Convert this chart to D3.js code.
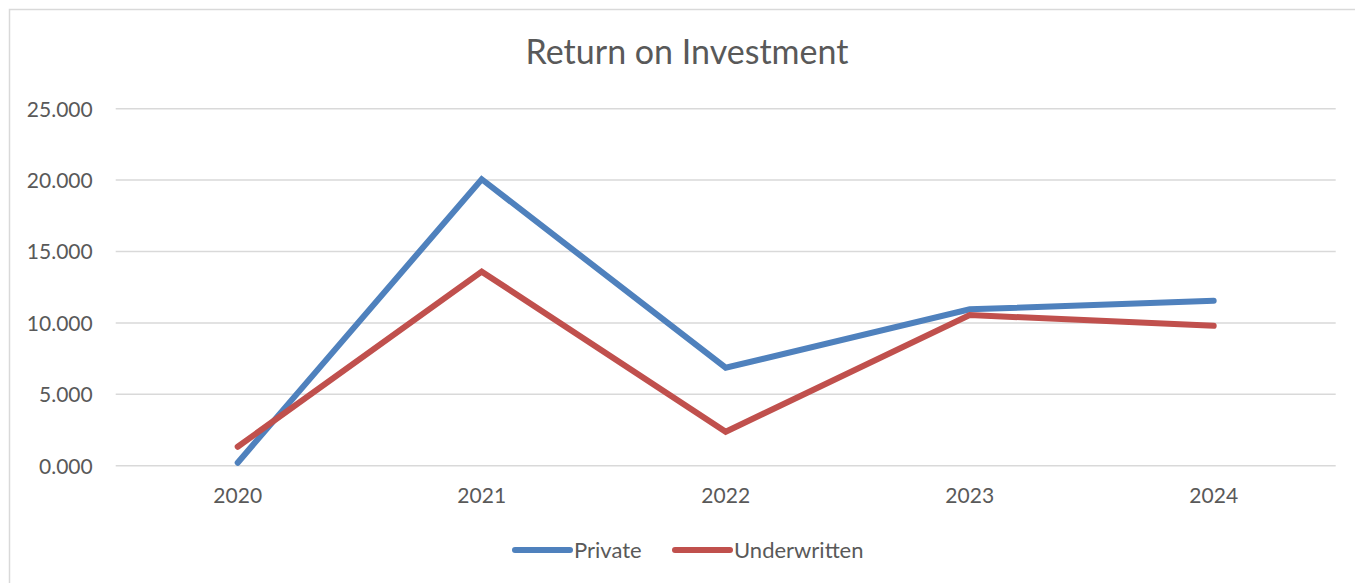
<!DOCTYPE html>
<html>
<head>
<meta charset="utf-8">
<script src="https://cdn.jsdelivr.net/npm/d3@7"></script>
<style>
  body { margin: 0; background: #fff; }
  text { font-family: Lato, "Open Sans", sans-serif; fill: #595959; }
</style>
</head>
<body>
<div id="chart"></div>
<script>
const years = ['2020', '2021', '2022', '2023', '2024']
const privateValues = [0.21, 20.06, 6.86, 10.95, 11.55]
const underwrittenValues = [1.33, 13.59, 2.38, 10.55, 9.80]
const yTicks = [0, 5, 10, 15, 20, 25]
const seriesNames = ['Private', 'Underwritten']
const seriesColors = ['#4F81BD', '#C0504D']

const width = 1355
const height = 583
const plotLeft = 115.7
const plotRight = 1335.7
const plotTop = 108.7
const plotBottom = 465.7

const svg = d3.select('#chart').append('svg')
    .attr('width', width)
    .attr('height', height)

// chart frame
svg.append('rect')
    .attr('x', 9.5)
    .attr('y', 9.5)
    .attr('width', width + 10)
    .attr('height', height + 10)
    .attr('fill', 'white')
    .attr('stroke', '#d9d9d9')
    .attr('stroke-width', 1.5)

const xScale = d3.scaleBand().domain(years).range([plotLeft, plotRight])
const yScale = d3.scaleLinear().domain([0, 25]).range([plotBottom, plotTop])

// gridlines
svg.append('g')
    .selectAll('line')
    .data(yTicks)
    .join('line')
    .attr('x1', plotLeft)
    .attr('x2', plotRight)
    .attr('y1', d => yScale(d))
    .attr('y2', d => yScale(d))
    .attr('stroke', '#d9d9d9')
    .attr('stroke-width', 1.5)

// y axis labels
const yAxis = svg.append('g')
    .attr('transform', 'translate(' + (plotLeft - 23) + ',0)')
    .call(d3.axisLeft(yScale).tickValues(yTicks).tickFormat(d3.format('.3f')).tickSize(0).tickPadding(0))
yAxis.select('.domain').remove()
yAxis.selectAll('text')
    .attr('font-size', 21)
    .attr('dy', '0.35em')
    .style('font-family', 'Lato, sans-serif')
    .attr('fill', '#595959')

// x axis labels
const xAxis = svg.append('g')
    .attr('transform', 'translate(0,' + plotBottom + ')')
    .call(d3.axisBottom(xScale).tickSize(0).tickPadding(22))
xAxis.select('.domain').remove()
xAxis.selectAll('text')
    .attr('font-size', 21)
    .style('font-family', 'Lato, sans-serif')
    .attr('fill', '#595959')

// lines
const line = d3.line()
    .x((d, i) => xScale(years[i]) + xScale.bandwidth() / 2)
    .y(d => yScale(d))

const seriesData = [privateValues, underwrittenValues]
svg.append('g')
    .selectAll('path')
    .data(seriesData)
    .join('path')
    .attr('d', line)
    .attr('fill', 'none')
    .attr('stroke', (d, i) => seriesColors[i])
    .attr('stroke-width', 6)
    .attr('stroke-linecap', 'round')
    .attr('stroke-linejoin', 'miter')

// title
svg.append('text')
    .attr('x', 687)
    .attr('y', 64)
    .attr('text-anchor', 'middle')
    .attr('font-size', 34)
    .text('Return on Investment')

// legend
const legendX = [515, 675]
const legend = svg.append('g')
    .selectAll('g')
    .data(seriesNames)
    .join('g')
    .attr('transform', (d, i) => 'translate(' + legendX[i] + ',550)')
legend.append('line')
    .attr('x1', 0)
    .attr('x2', 55)
    .attr('stroke', (d, i) => seriesColors[i])
    .attr('stroke-width', 6)
    .attr('stroke-linecap', 'round')
legend.append('text')
    .attr('x', 59)
    .attr('dy', '0.35em')
    .attr('font-size', 22)
    .text(d => d)
</script>
</body>
</html>
